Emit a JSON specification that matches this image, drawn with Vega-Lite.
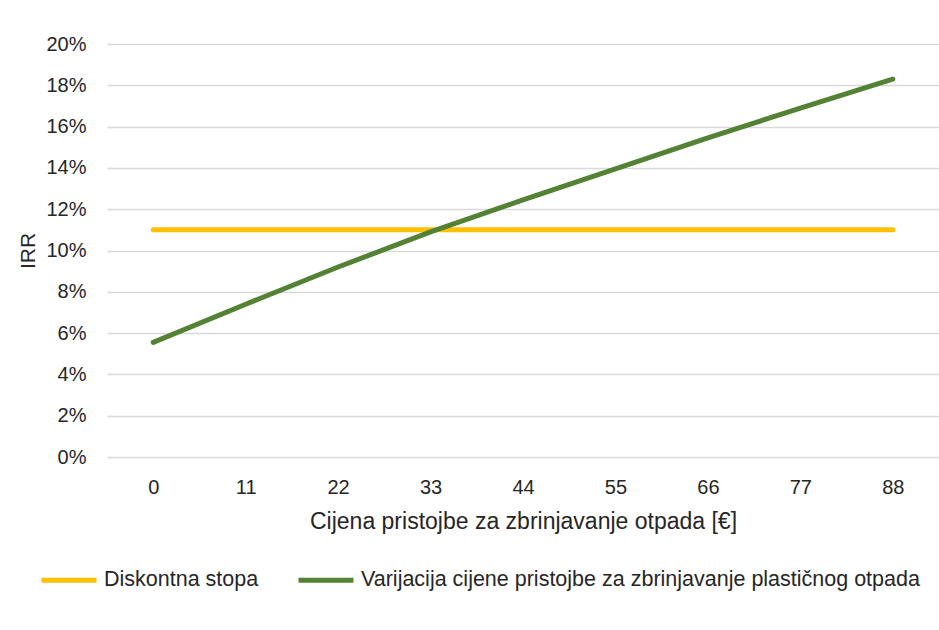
{
  "$schema": "https://vega.github.io/schema/vega-lite/v6.json",
  "width": 832,
  "height": 413,
  "autosize": {"type": "none"},
  "padding": {"left": 107, "top": 44, "right": 0, "bottom": 173},
  "background": "white",
  "config": {
    "view": {"stroke": null},
    "font": "Liberation Sans",
    "axis": {"labelFont": "Liberation Sans", "titleFont": "Liberation Sans", "labelColor": "#262626", "titleColor": "#262626"},
    "legend": {"labelFont": "Liberation Sans"}
  },
  "data": {
    "values": [
      {"cijena": 0, "serija": "Diskontna stopa", "irr": 0.11},
      {"cijena": 11, "serija": "Diskontna stopa", "irr": 0.11},
      {"cijena": 22, "serija": "Diskontna stopa", "irr": 0.11},
      {"cijena": 33, "serija": "Diskontna stopa", "irr": 0.11},
      {"cijena": 44, "serija": "Diskontna stopa", "irr": 0.11},
      {"cijena": 55, "serija": "Diskontna stopa", "irr": 0.11},
      {"cijena": 66, "serija": "Diskontna stopa", "irr": 0.11},
      {"cijena": 77, "serija": "Diskontna stopa", "irr": 0.11},
      {"cijena": 88, "serija": "Diskontna stopa", "irr": 0.11},
      {"cijena": 0, "serija": "Varijacija cijene pristojbe za zbrinjavanje plastičnog otpada", "irr": 0.0555},
      {"cijena": 11, "serija": "Varijacija cijene pristojbe za zbrinjavanje plastičnog otpada", "irr": 0.074},
      {"cijena": 22, "serija": "Varijacija cijene pristojbe za zbrinjavanje plastičnog otpada", "irr": 0.092},
      {"cijena": 33, "serija": "Varijacija cijene pristojbe za zbrinjavanje plastičnog otpada", "irr": 0.109},
      {"cijena": 44, "serija": "Varijacija cijene pristojbe za zbrinjavanje plastičnog otpada", "irr": 0.1245},
      {"cijena": 55, "serija": "Varijacija cijene pristojbe za zbrinjavanje plastičnog otpada", "irr": 0.1395},
      {"cijena": 66, "serija": "Varijacija cijene pristojbe za zbrinjavanje plastičnog otpada", "irr": 0.1545},
      {"cijena": 77, "serija": "Varijacija cijene pristojbe za zbrinjavanje plastičnog otpada", "irr": 0.169},
      {"cijena": 88, "serija": "Varijacija cijene pristojbe za zbrinjavanje plastičnog otpada", "irr": 0.183}
    ]
  },
  "mark": {"type": "line", "strokeWidth": 5, "strokeCap": "round", "strokeJoin": "round"},
  "encoding": {
    "x": {
      "field": "cijena",
      "type": "ordinal",
      "scale": {"type": "point", "padding": 0.5},
      "axis": {
        "title": "Cijena pristojbe za zbrinjavanje otpada [€]",
        "labelAngle": 0,
        "labelFontSize": 20,
        "titleFontSize": 23,
        "titleFontWeight": "normal",
        "labelPadding": 20,
        "titlePadding": 13,
        "domain": false,
        "ticks": false,
        "grid": false
      }
    },
    "y": {
      "field": "irr",
      "type": "quantitative",
      "scale": {"domain": [0, 0.2], "nice": false},
      "axis": {
        "title": "IRR",
        "format": ".0%",
        "values": [0, 0.02, 0.04, 0.06, 0.08, 0.1, 0.12, 0.14, 0.16, 0.18, 0.2],
        "labelFontSize": 20,
        "titleFontSize": 21,
        "titleFontWeight": "normal",
        "labelPadding": 21,
        "titlePadding": 7,
        "domain": false,
        "ticks": false,
        "gridColor": "#D9D9D9",
        "gridWidth": 1.5
      }
    },
    "color": {
      "field": "serija",
      "type": "nominal",
      "scale": {
        "domain": ["Diskontna stopa", "Varijacija cijene pristojbe za zbrinjavanje plastičnog otpada"],
        "range": ["#FFC000", "#548235"]
      },
      "legend": {
        "title": null,
        "orient": "none",
        "direction": "horizontal",
        "legendX": -68,
        "legendY": 506,
        "symbolType": "stroke",
        "symbolSize": 3025,
        "symbolStrokeWidth": 5,
        "labelFontSize": 21.5,
        "labelColor": "#262626",
        "labelOffset": 5,
        "columnPadding": 29,
        "labelLimit": 700
      }
    }
  }
}
